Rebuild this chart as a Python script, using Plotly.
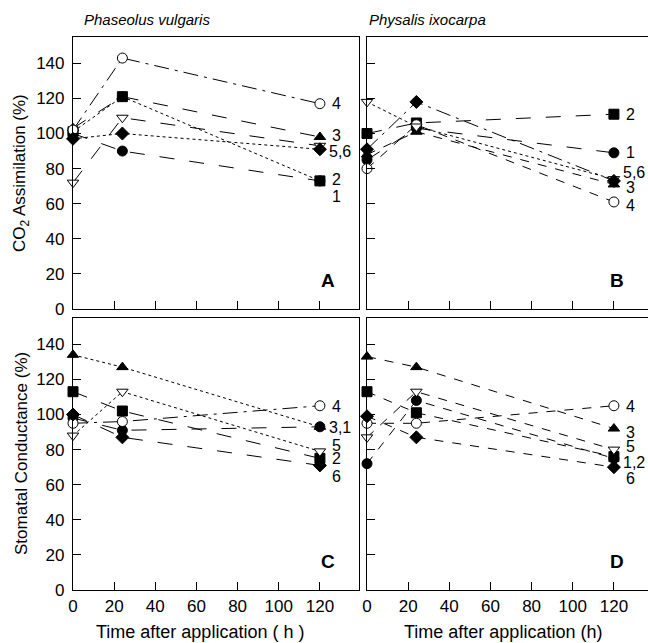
import plotly.graph_objects as go

# ---------------- data ----------------
times = [0, 24, 120]
series_ids = ["1", "2", "3", "4", "5", "6"]

# CO2 assimilation (%), Phaseolus vulgaris (panel A)
co2_phaseolus_1 = [100, 90, 73]
co2_phaseolus_2 = [101, 121, 73]
co2_phaseolus_3 = [103, 121, 98]
co2_phaseolus_4 = [102, 143, 117]
co2_phaseolus_5 = [72, 109, 93]
co2_phaseolus_6 = [97, 100, 91]

# CO2 assimilation (%), Physalis ixocarpa (panel B)
co2_physalis_1 = [85, 103, 89]
co2_physalis_2 = [100, 106, 111]
co2_physalis_3 = [88, 101, 71]
co2_physalis_4 = [80, 105, 61]
co2_physalis_5 = [118, 104, 74]
co2_physalis_6 = [91, 118, 73]

# Stomatal conductance (%), Phaseolus vulgaris (panel C)
gs_phaseolus_1 = [98, 91, 93]
gs_phaseolus_2 = [113, 102, 75]
gs_phaseolus_3 = [134, 127, 93]
gs_phaseolus_4 = [95, 96, 105]
gs_phaseolus_5 = [88, 113, 79]
gs_phaseolus_6 = [100, 87, 71]

# Stomatal conductance (%), Physalis ixocarpa (panel D)
gs_physalis_1 = [72, 108, 75]
gs_physalis_2 = [113, 101, 76]
gs_physalis_3 = [133, 127, 92]
gs_physalis_4 = [95, 95, 105]
gs_physalis_5 = [87, 113, 80]
gs_physalis_6 = [99, 87, 70]

# end-of-line labels (text, value)
labels_A = [("4", 117), ("3", 99), ("5,6", 90), ("2", 74), ("1", 64)]
labels_B = [("2", 111), ("1", 89), ("5,6", 78), ("3", 69), ("4", 59)]
labels_C = [("4", 104.5), ("3,1", 92.6), ("5", 82.4), ("2", 75), ("6", 64.8)]
labels_D = [("4", 104.5), ("3", 89.8), ("5", 81.8), ("1,2", 72.7), ("6", 63.6)]

y_ticks = [0, 20, 40, 60, 80, 100, 120, 140]
x_ticks = [0, 20, 40, 60, 80, 100, 120]

# ---------------- styling ----------------
FONT = "Liberation Sans, Arial, sans-serif"
marker_style = {
    "1": dict(symbol="circle", color="black", line=dict(color="black", width=1)),
    "2": dict(symbol="square", color="black", line=dict(color="black", width=1)),
    "3": dict(symbol="triangle-up", color="black", line=dict(color="black", width=1)),
    "4": dict(symbol="circle", color="white", line=dict(color="black", width=1)),
    "5": dict(symbol="triangle-down", color="white", line=dict(color="black", width=1)),
    "6": dict(symbol="diamond", color="black", line=dict(color="black", width=1)),
}
dash_A = {"1": "longdash", "2": "dot", "3": "longdash", "4": "longdashdot", "5": "longdash", "6": "dot"}
dash_B = {"1": "longdash", "2": "longdash", "3": "dash", "4": "dash", "5": "dot", "6": "longdashdot"}
dash_C = {"1": "longdash", "2": "longdash", "3": "dot", "4": "longdashdot", "5": "dot", "6": "longdash"}
dash_D = {"1": "dash", "2": "dash", "3": "dash", "4": "dash", "5": "dash", "6": "dash"}

panels = [
    ("x", "y", [co2_phaseolus_1, co2_phaseolus_2, co2_phaseolus_3, co2_phaseolus_4, co2_phaseolus_5, co2_phaseolus_6], dash_A, labels_A, "A"),
    ("x2", "y2", [co2_physalis_1, co2_physalis_2, co2_physalis_3, co2_physalis_4, co2_physalis_5, co2_physalis_6], dash_B, labels_B, "B"),
    ("x3", "y3", [gs_phaseolus_1, gs_phaseolus_2, gs_phaseolus_3, gs_phaseolus_4, gs_phaseolus_5, gs_phaseolus_6], dash_C, labels_C, "C"),
    ("x4", "y4", [gs_physalis_1, gs_physalis_2, gs_physalis_3, gs_physalis_4, gs_physalis_5, gs_physalis_6], dash_D, labels_D, "D"),
]

fig = go.Figure()
annotations = []
for xa, ya, data, dashes, labels, letter in panels:
    for sid, vals in zip(series_ids, data):
        fig.add_trace(go.Scatter(
            x=times, y=vals, xaxis=xa, yaxis=ya, mode="lines+markers",
            line=dict(color="black", width=1, dash=dashes[sid]),
            marker=dict(size=10, **marker_style[sid]),
            cliponaxis=False, showlegend=False, hoverinfo="x+y",
        ))
    for txt, yv in labels:
        annotations.append(dict(
            x=times[-1], y=yv, xref=xa, yref=ya, text=txt, showarrow=False,
            xanchor="left", yanchor="middle", xshift=10 if len(txt) == 1 else 7,
            font=dict(family=FONT, size=16, color="black"),
        ))
    annotations.append(dict(
        x=1, y=0, xref=f"{xa} domain", yref=f"{ya} domain", text=f"<b>{letter}</b>",
        showarrow=False, xanchor="right", yanchor="bottom", xshift=-22, yshift=16,
        font=dict(family=FONT, size=19, color="black"),
    ))

# titles / axis titles (positions given in pixels from top-left, converted below)
annotations += [
    dict(x=82 / 648, y=20 / 643, xref="paper", yref="paper", text="<i>Phaseolus vulgaris</i>",
         showarrow=False, xanchor="left", yanchor="middle", font=dict(family=FONT, size=15)),
    dict(x=367 / 648, y=20 / 643, xref="paper", yref="paper", text="<i>Physalis ixocarpa</i>",
         showarrow=False, xanchor="left", yanchor="middle", font=dict(family=FONT, size=15)),
    dict(x=200 / 648, y=632 / 643, xref="paper", yref="paper", text="Time after application ( h )",
         showarrow=False, xanchor="center", yanchor="middle", font=dict(family=FONT, size=18)),
    dict(x=503 / 648, y=632 / 643, xref="paper", yref="paper", text="Time after application (h)",
         showarrow=False, xanchor="center", yanchor="middle", font=dict(family=FONT, size=18)),
    dict(x=21 / 648, y=173 / 643, xref="paper", yref="paper", text="CO<sub>2</sub> Assimilation (%)",
         showarrow=False, textangle=-90, xanchor="center", yanchor="middle", font=dict(family=FONT, size=17)),
    dict(x=21 / 648, y=454 / 643, xref="paper", yref="paper", text="Stomatal Conductance (%)",
         showarrow=False, textangle=-90, xanchor="center", yanchor="middle", font=dict(family=FONT, size=17)),
]
L, R, T, B = 73, 0, 37, 53
W, H = 648, 643
pw, ph = W - L - R, H - T - B
for a in annotations:
    if a.get("xref") == "paper":
        a["x"] = (a["x"] * W - L) / pw
        a["y"] = ((H - B) - a["y"] * H) / ph

def xaxis(domain, show_labels, anchor):
    return dict(domain=domain, range=[0, 139], tickvals=x_ticks, ticks="inside", ticklen=8,
                showticklabels=show_labels, showline=True, linecolor="black", linewidth=1.2,
                mirror=True, showgrid=False, zeroline=False, anchor=anchor,
                tickfont=dict(family=FONT, size=17, color="black"), tickcolor="black")

def yaxis(domain, show_labels, anchor, mirror):
    return dict(domain=domain, range=[0, 155], tickvals=y_ticks, ticks="inside", ticklen=8,
                showticklabels=show_labels, showline=True, linecolor="black", linewidth=1.2,
                mirror=mirror, showgrid=False, zeroline=False, anchor=anchor,
                ticklabelstandoff=4,
                tickfont=dict(family=FONT, size=17, color="black"), tickcolor="black")

dxA = [0, (359 - L) / pw]
dxB = [(367 - L) / pw, 1]
dyTop = [((H - B) - 309) / ph, 1]
dyBot = [0, ((H - B) - 318) / ph]
xr_right = [0, 139 * (W - 367) / (359 - L)]

fig.update_layout(
    width=W, height=H, margin=dict(l=L, r=R, t=T, b=B, autoexpand=False),
    paper_bgcolor="white", plot_bgcolor="white",
    font=dict(family=FONT, color="black"),
    xaxis=xaxis(dxA, False, "y"), yaxis=yaxis(dyTop, True, "x", True),
    xaxis2=dict(xaxis(dxB, False, "y2"), range=xr_right),
    yaxis2=yaxis(dyTop, False, "x2", False),
    xaxis3=xaxis(dxA, True, "y3"), yaxis3=yaxis(dyBot, True, "x3", True),
    xaxis4=dict(xaxis(dxB, True, "y4"), range=xr_right),
    yaxis4=yaxis(dyBot, False, "x4", False),
    annotations=annotations,
)

fig.write_html("out.html")
